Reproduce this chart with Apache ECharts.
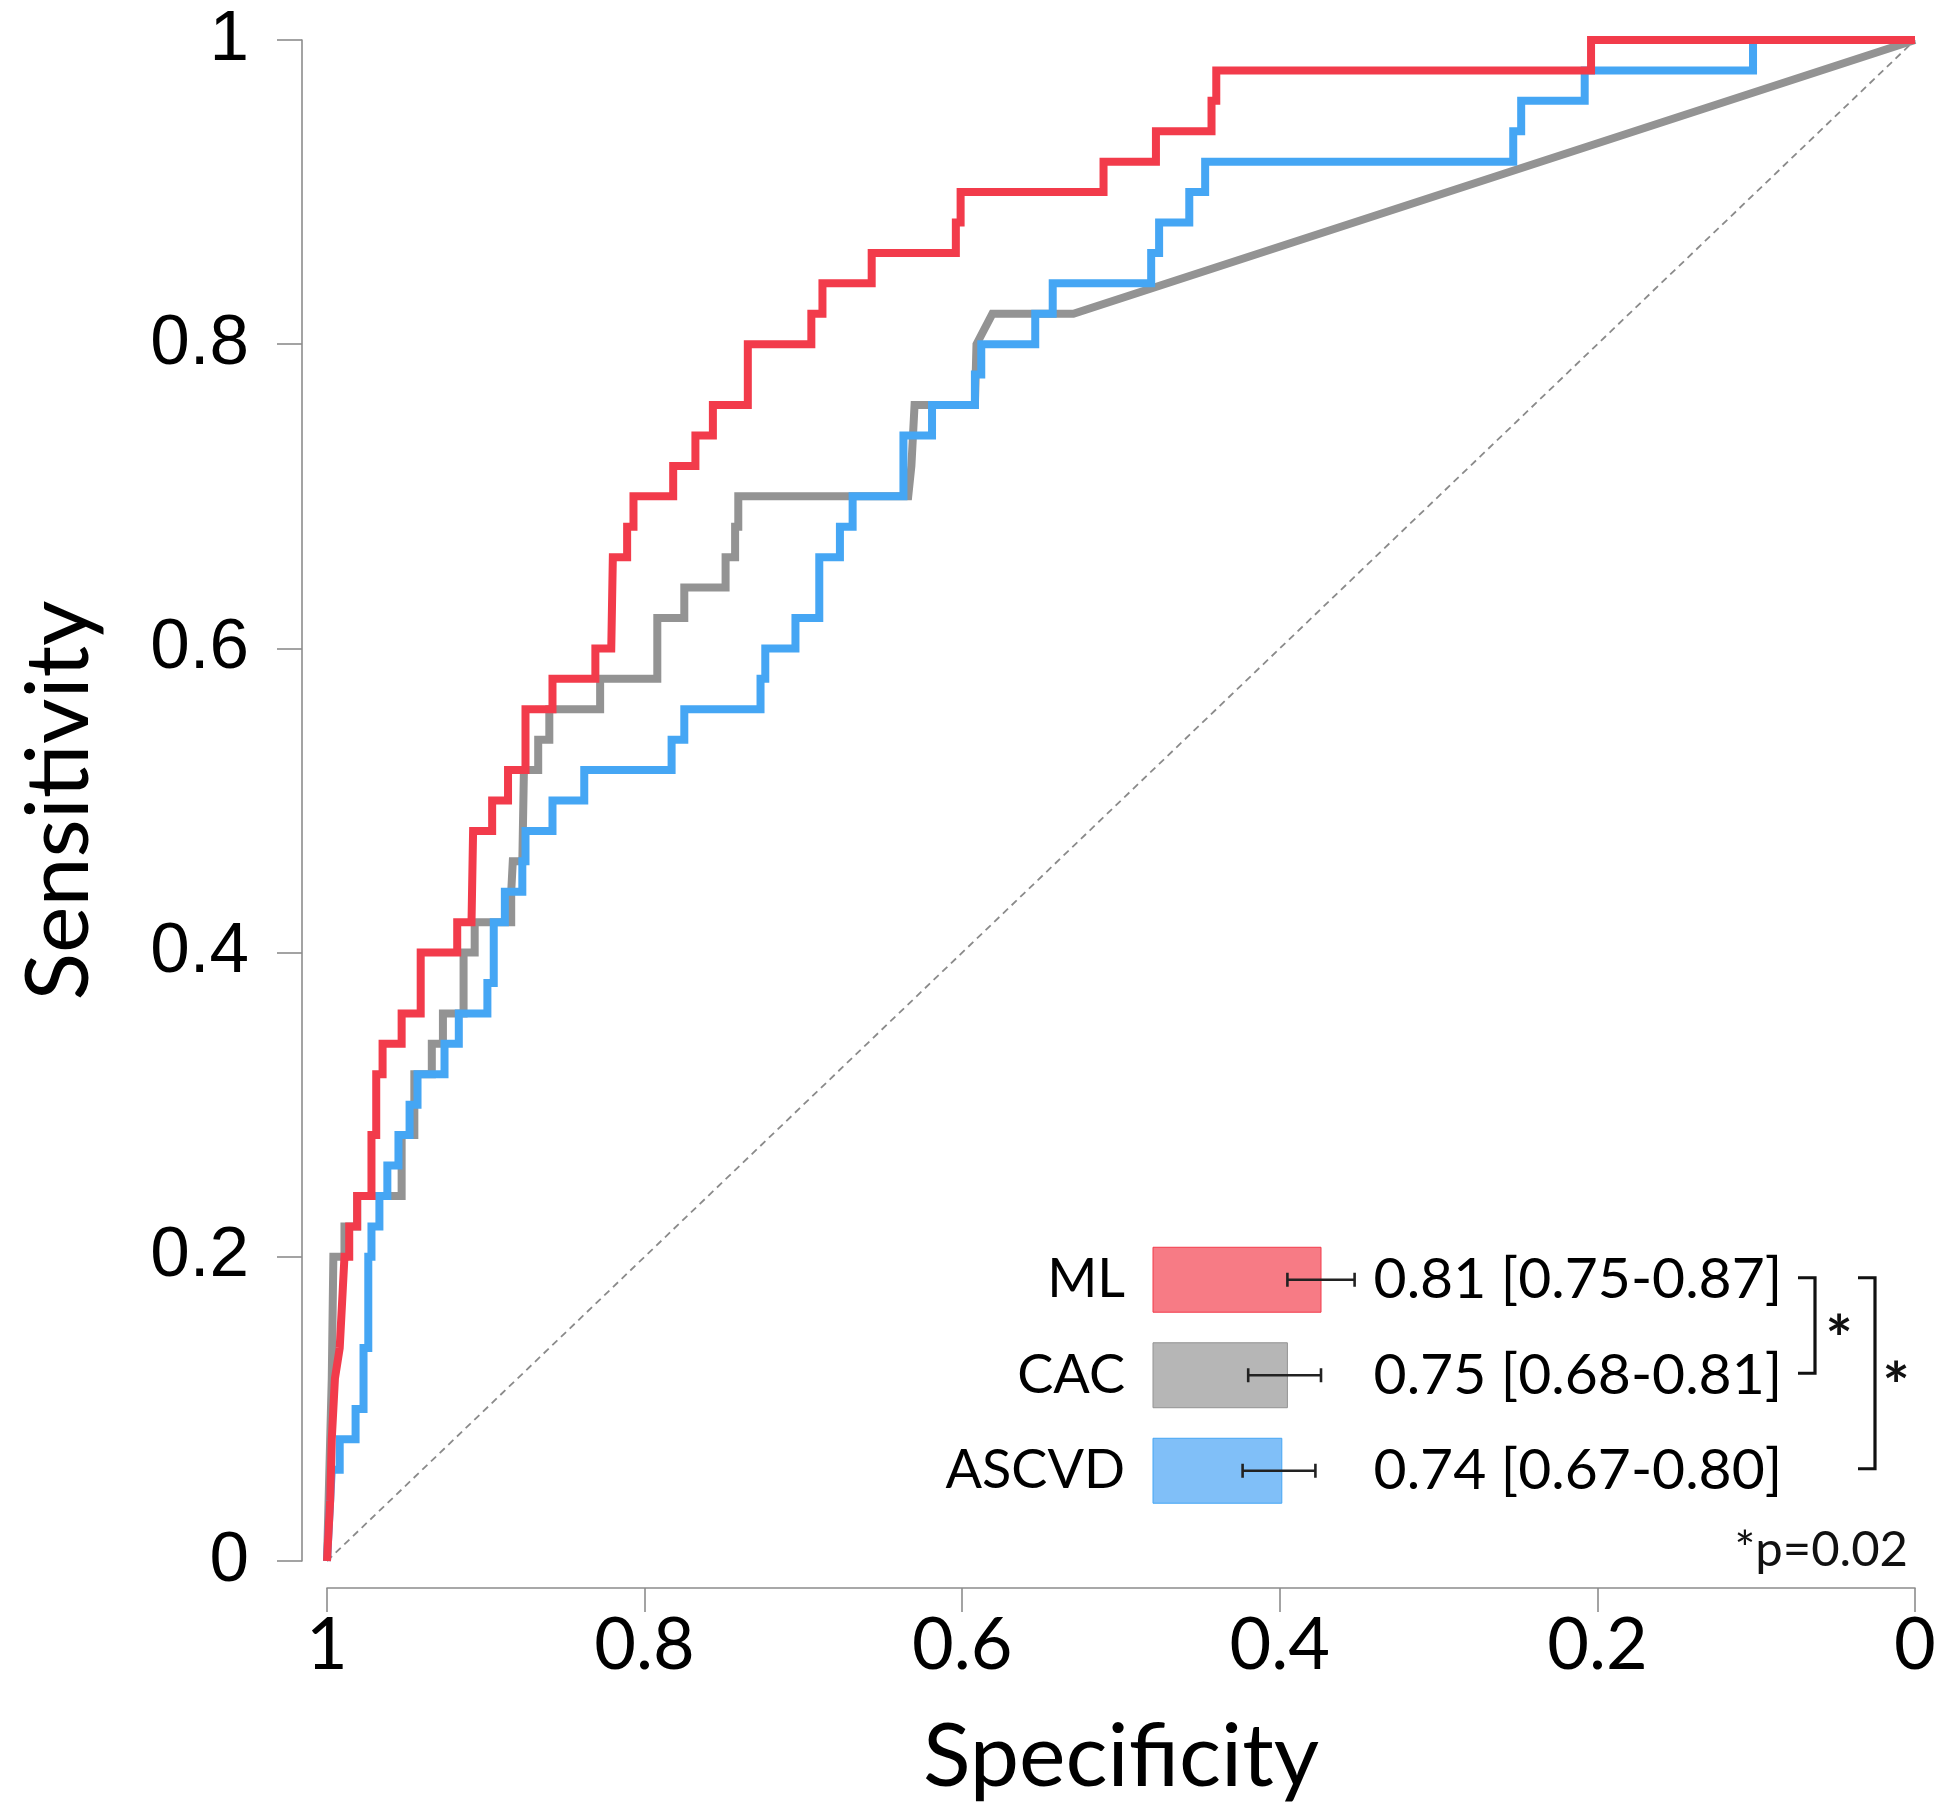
<!DOCTYPE html>
<html><head><meta charset="utf-8">
<script src="https://cdn.jsdelivr.net/npm/echarts@6/dist/echarts.min.js"></script>
<style>html,body{margin:0;padding:0;background:#fff}#c{width:1950px;height:1816px}</style>
</head><body><div id="c"></div>
<script>
// ---------- data ----------
const models = ['ML', 'CAC', 'ASCVD'];
const aucValues = [0.81, 0.75, 0.74];
const ciLow = [0.75, 0.68, 0.67];
const ciHigh = [0.87, 0.81, 0.80];
const pValueNote = '*p=0.02';
const comparisons = [[0, 1], [0, 2]]; // ML vs CAC, ML vs ASCVD

// ROC curves: [specificity, sensitivity]
const mlCurve = [[1,0],[0.998,0.04],[0.997,0.08],[0.995,0.12],[0.992,0.14],[0.990,0.18],[0.989,0.20],[0.986,0.20],[0.986,0.22],[0.981,0.22],[0.981,0.24],[0.972,0.24],[0.972,0.28],[0.969,0.28],[0.969,0.32],[0.965,0.32],[0.965,0.34],[0.953,0.34],[0.953,0.36],[0.941,0.36],[0.941,0.40],[0.918,0.40],[0.918,0.42],[0.909,0.42],[0.908,0.48],[0.896,0.48],[0.896,0.50],[0.886,0.50],[0.886,0.52],[0.875,0.52],[0.875,0.56],[0.858,0.56],[0.858,0.58],[0.831,0.58],[0.831,0.60],[0.821,0.60],[0.820,0.66],[0.811,0.66],[0.811,0.68],[0.807,0.68],[0.807,0.70],[0.782,0.70],[0.782,0.72],[0.768,0.72],[0.768,0.74],[0.757,0.74],[0.757,0.76],[0.735,0.76],[0.735,0.80],[0.695,0.80],[0.695,0.82],[0.688,0.82],[0.688,0.84],[0.657,0.84],[0.657,0.86],[0.604,0.86],[0.604,0.88],[0.601,0.88],[0.601,0.90],[0.511,0.90],[0.511,0.92],[0.478,0.92],[0.478,0.94],[0.443,0.94],[0.443,0.96],[0.440,0.96],[0.440,0.98],[0.204,0.98],[0.204,1.0],[0,1.0]];
const cacCurve = [[1,0],[0.997,0.12],[0.996,0.20],[0.989,0.20],[0.989,0.22],[0.981,0.22],[0.981,0.24],[0.953,0.24],[0.953,0.28],[0.945,0.28],[0.945,0.32],[0.934,0.32],[0.934,0.34],[0.927,0.34],[0.927,0.36],[0.914,0.36],[0.914,0.40],[0.907,0.40],[0.907,0.42],[0.884,0.42],[0.884,0.44],[0.883,0.46],[0.877,0.46],[0.876,0.52],[0.867,0.52],[0.867,0.54],[0.860,0.54],[0.860,0.56],[0.828,0.56],[0.828,0.58],[0.792,0.58],[0.792,0.62],[0.775,0.62],[0.775,0.64],[0.749,0.64],[0.749,0.66],[0.743,0.66],[0.743,0.68],[0.741,0.68],[0.741,0.70],[0.634,0.70],[0.632,0.72],[0.631,0.74],[0.630,0.76],[0.592,0.76],[0.591,0.80],[0.581,0.82],[0.530,0.82],[0,1.0]];
const ascvdCurve = [[1,0],[0.997,0.06],[0.992,0.06],[0.992,0.08],[0.982,0.08],[0.982,0.10],[0.977,0.10],[0.977,0.14],[0.974,0.14],[0.974,0.20],[0.972,0.20],[0.972,0.22],[0.967,0.22],[0.967,0.24],[0.962,0.24],[0.962,0.26],[0.955,0.26],[0.955,0.28],[0.948,0.28],[0.948,0.30],[0.943,0.30],[0.943,0.32],[0.926,0.32],[0.926,0.34],[0.917,0.34],[0.917,0.36],[0.899,0.36],[0.899,0.38],[0.895,0.38],[0.895,0.42],[0.888,0.42],[0.888,0.44],[0.877,0.44],[0.877,0.46],[0.875,0.46],[0.875,0.48],[0.858,0.48],[0.858,0.50],[0.838,0.50],[0.838,0.52],[0.783,0.52],[0.783,0.54],[0.775,0.54],[0.775,0.56],[0.727,0.56],[0.727,0.58],[0.724,0.58],[0.724,0.60],[0.705,0.60],[0.705,0.62],[0.690,0.62],[0.690,0.66],[0.677,0.66],[0.677,0.68],[0.669,0.68],[0.669,0.70],[0.637,0.70],[0.637,0.74],[0.619,0.74],[0.619,0.76],[0.592,0.76],[0.592,0.78],[0.588,0.78],[0.588,0.80],[0.554,0.80],[0.554,0.82],[0.543,0.82],[0.543,0.84],[0.481,0.84],[0.481,0.86],[0.476,0.86],[0.476,0.88],[0.457,0.88],[0.457,0.90],[0.447,0.90],[0.447,0.92],[0.253,0.92],[0.253,0.94],[0.248,0.94],[0.248,0.96],[0.208,0.96],[0.208,0.98],[0.102,0.98],[0.102,1.0],[0,1.0]];
const chanceLine = [[1,0],[0,1]];

// ---------- style ----------
const lineColors = { ML: '#F23B4B', CAC: '#939393', ASCVD: '#45A6F4' };
const barFills = { ML: '#F77B85', CAC: '#B6B6B6', ASCVD: '#80BFF8' };
const insetBase = 0.51;
const axisGray = '#8c8c8c';
const uiFont = 'Lato';

const aucLabels = models.map((m, i) =>
  aucValues[i].toFixed(2) + ' [' + ciLow[i].toFixed(2) + '-' + ciHigh[i].toFixed(2) + ']');

const chart = echarts.init(document.getElementById('c'), null, { renderer: 'canvas', width: 1950, height: 1816 });

function rocSeries(name, data) {
  return {
    name, type: 'line', data, xAxisIndex: 0, yAxisIndex: 0,
    showSymbol: false, symbol: 'none', silent: true, clip: false,
    lineStyle: { color: lineColors[name], width: 8, join: 'miter', cap: 'butt' },
    z: 3
  };
}

const option = {
  animation: false,
  backgroundColor: '#ffffff',
  grid: [
    { left: 327, top: 40, width: 1588, height: 1521, containLabel: false, outerBoundsMode: 'none' },
    { left: 1153, top: 1232, width: 201.6, height: 286.5, containLabel: false, outerBoundsMode: 'none' }
  ],
  xAxis: [
    {
      type: 'value', gridIndex: 0, min: 0, max: 1, interval: 0.2, inverse: true, offset: 27,
      axisLine: { show: true, onZero: false, lineStyle: { color: axisGray, width: 1.6 } },
      axisTick: { show: true, length: 24, lineStyle: { color: axisGray, width: 1.6 } },
      axisLabel: { fontSize: 72, fontFamily: uiFont, color: '#000', margin: 22 },
      splitLine: { show: false },
      name: 'Specificity', nameLocation: 'middle', nameGap: 126,
      nameTextStyle: { fontSize: 88, fontFamily: uiFont, color: '#000' }
    },
    { type: 'value', gridIndex: 1, min: insetBase, max: 0.87, show: false }
  ],
  yAxis: [
    {
      type: 'value', gridIndex: 0, min: 0, max: 1, interval: 0.2, offset: 25,
      axisLine: { show: true, onZero: false, lineStyle: { color: axisGray, width: 1.6 } },
      axisTick: { show: true, length: 25, lineStyle: { color: axisGray, width: 1.6 } },
      axisLabel: { fontSize: 71, fontFamily: 'Liberation Sans', color: '#000', margin: 53 },
      splitLine: { show: false },
      name: 'Sensitivity', nameLocation: 'middle', nameGap: 198,
      nameTextStyle: { fontSize: 88, fontFamily: uiFont, color: '#000' }
    },
    {
      type: 'category', gridIndex: 1, position: 'left', data: models, inverse: true,
      axisLine: { show: false }, axisTick: { show: false }, splitLine: { show: false },
      axisLabel: { fontSize: 54, fontFamily: uiFont, color: '#000', margin: 28 }
    },
    {
      type: 'category', gridIndex: 1, position: 'right', data: aucLabels, inverse: true,
      axisLine: { show: false }, axisTick: { show: false }, splitLine: { show: false },
      axisLabel: { fontSize: 57, fontFamily: uiFont, color: '#000', margin: 19 }
    }
  ],
  series: [
    {
      name: 'chance', type: 'line', data: chanceLine, xAxisIndex: 0, yAxisIndex: 0,
      showSymbol: false, symbol: 'none', silent: true,
      lineStyle: { color: '#8a8a8a', width: 1.8, type: [7, 5] }, z: 2
    },
    rocSeries('CAC', cacCurve),
    rocSeries('ASCVD', ascvdCurve),
    rocSeries('ML', mlCurve),
    {
      name: 'AUC', type: 'custom', xAxisIndex: 1, yAxisIndex: 1, clip: false, silent: true,
      data: models.map((m, i) => [aucValues[i], i, ciLow[i], ciHigh[i]]),
      encode: { x: 0, y: 1 },
      renderItem: function (params, api) {
        const i = api.value(1);
        const start = api.coord([insetBase, i]);
        const end = api.coord([api.value(0), i]);
        const lo = api.coord([api.value(2), i]);
        const hi = api.coord([api.value(3), i]);
        const bh = api.size([0, 1])[1] * 0.68;
        const cap = 14;
        const name = models[i];
        return {
          type: 'group',
          children: [
            { type: 'rect', shape: { x: start[0], y: start[1] - bh / 2, width: end[0] - start[0], height: bh },
              style: { fill: barFills[name], stroke: lineColors[name], lineWidth: 1, opacity: 1 } },
            { type: 'line', shape: { x1: lo[0], y1: lo[1], x2: hi[0], y2: hi[1] }, style: { stroke: '#222', lineWidth: 2.6 } },
            { type: 'line', shape: { x1: lo[0], y1: lo[1] - cap / 2, x2: lo[0], y2: lo[1] + cap / 2 }, style: { stroke: '#222', lineWidth: 2.6 } },
            { type: 'line', shape: { x1: hi[0], y1: hi[1] - cap / 2, x2: hi[0], y2: hi[1] + cap / 2 }, style: { stroke: '#222', lineWidth: 2.6 } }
          ]
        };
      },
      z: 5
    }
  ]
};
chart.setOption(option);

// significance brackets & note (annotation positioned from the inset rows)
const rowY = models.map(m => chart.convertToPixel({ yAxisIndex: 1 }, m));
const bracketX = [1815, 1875];
const starDX = [24, 21];
const starSize = 64;
const graphics = comparisons.map((c, k) => {
  const y0 = rowY[c[0]] - 2, y1 = rowY[c[1]] - 2;
  const x = bracketX[k];
  const starY = (y0 + y1) / 2 + 4 + 0.18 * starSize;
  return [
    { type: 'polyline', shape: { points: [[x - 17, y0], [x, y0], [x, y1], [x - 17, y1]] },
      style: { stroke: '#111', lineWidth: 3.2, fill: null }, z: 10 },
    { type: 'text', x: x + starDX[k], y: starY,
      style: { text: '*', fontSize: starSize, fontWeight: 'bold', fontFamily: uiFont, fill: '#111', align: 'center', verticalAlign: 'middle' }, z: 10 }
  ];
}).flat();
graphics.push({ type: 'text', x: 1908, y: 1550,
  style: { text: pValueNote, fontSize: 49, fontFamily: uiFont, fill: '#111', align: 'right', verticalAlign: 'middle' }, z: 10 });
chart.setOption({ graphic: graphics });
</script>
</body></html>
